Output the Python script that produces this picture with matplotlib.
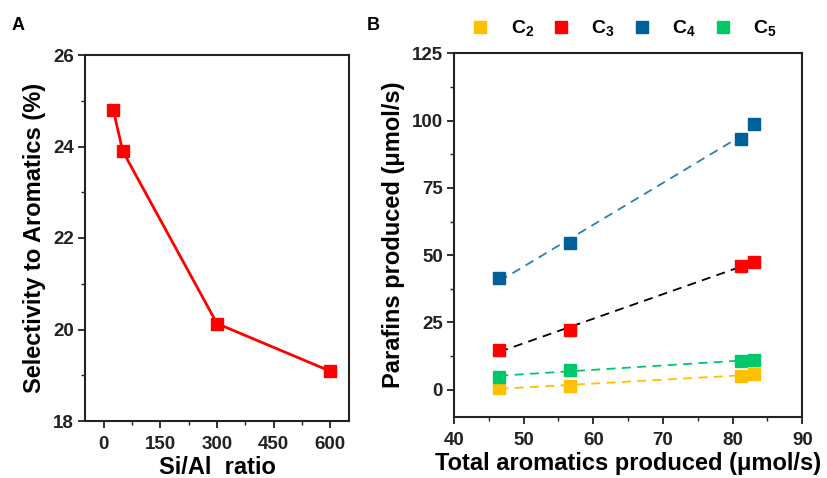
import matplotlib
matplotlib.use("Agg")
import matplotlib.pyplot as plt
import numpy as np
from matplotlib.ticker import MultipleLocator
from matplotlib.lines import Line2D

plt.rcParams['font.family'] = ['Liberation Sans', 'DejaVu Sans']
plt.rcParams['font.weight'] = 'bold'
plt.rcParams['mathtext.fontset'] = 'custom'
plt.rcParams['mathtext.rm'] = 'Liberation Sans:bold'
plt.rcParams['mathtext.bf'] = 'Liberation Sans:bold'

# Panel A data
si_al = [25, 50, 300, 600]
selectivity = [24.8, 23.9, 20.13, 19.09]

# Panel B data
aromatics = [46.5, 56.6, 81.2, 83.0]
c2 = [0.6, 1.5, 5.3, 5.8]
c3 = [14.8, 22.3, 45.8, 47.6]
c4 = [41.5, 54.5, 93.1, 98.6]
c5 = [4.9, 7.3, 10.8, 11.1]
series_names = ['C$_2$', 'C$_3$', 'C$_4$', 'C$_5$']
series_vals = [c2, c3, c4, c5]
marker_colors = ['#FFC000', '#FF0000', '#00609C', '#00C86A']
line_colors = ['#FFC000', '#000000', '#2A7FB8', '#00C86A']

fig = plt.figure(figsize=(8.28, 4.78), dpi=100)
W, H = 828, 478
axA = fig.add_axes([85 / W, 1 - 421 / H, (349 - 85) / W, (421 - 55) / H])
axB = fig.add_axes([454 / W, 1 - 416.7 / H, (802.3 - 454) / W, (416.7 - 53.3) / H])

def style(ax):
    for s in ax.spines.values():
        s.set_linewidth(1.5)
        s.set_color('#222222')
    ax.tick_params(which='major', direction='out', length=5, width=1.3, labelsize=13.5,
                   colors='#222222')
    ax.tick_params(axis='x', which='major', pad=6)
    ax.tick_params(axis='y', which='major', pad=3)
    ax.tick_params(which='minor', direction='out', length=3, width=1.0, colors='#222222')
    for lab in ax.get_xticklabels() + ax.get_yticklabels():
        lab.set_fontweight('bold')

# Panel A
axA.plot(si_al, selectivity, color='#FF0000', lw=2, marker='s', ms=9,
         mfc='#FF0000', mec='#FF0000', zorder=3)
axA.set_xlim(-50, 650)
axA.set_ylim(18, 26)
axA.xaxis.set_major_locator(MultipleLocator(150))
axA.xaxis.set_minor_locator(MultipleLocator(75))
axA.yaxis.set_major_locator(MultipleLocator(2))
axA.yaxis.set_minor_locator(MultipleLocator(1))
axA.set_xlabel('Si/Al  ratio', fontsize=17, fontweight='bold', labelpad=2)
axA.set_ylabel('Selectivity to Aromatics (%)', fontsize=17, fontweight='bold', labelpad=5)
style(axA)

# Panel B
xa = np.array(aromatics)
for vals, mc, lc in zip(series_vals, marker_colors, line_colors):
    k, b = np.polyfit(xa, np.array(vals), 1)
    xs = np.array([xa.min(), xa.max() - 0.8])
    axB.plot(xs, k * xs + b, ls=(0, (5, 3.5)), color=lc, lw=1.3, zorder=2)
    axB.plot(xa, vals, ls='none', marker='s', ms=9, mfc=mc, mec=mc, zorder=3)
axB.set_xlim(40, 90)
axB.set_ylim(-10, 125)
axB.xaxis.set_major_locator(MultipleLocator(10))
axB.xaxis.set_minor_locator(MultipleLocator(5))
axB.yaxis.set_major_locator(MultipleLocator(25))
axB.yaxis.set_minor_locator(MultipleLocator(12.5))
axB.set_xlabel('Total aromatics produced (\u03bcmol/s)', fontsize=17, fontweight='bold', labelpad=2)
axB.set_ylabel('Parafins produced (\u03bcmol/s)', fontsize=17, fontweight='bold', labelpad=5)
style(axB)

handles = [Line2D([], [], ls='none', marker='s', ms=8, mfc=c, mec=c) for c in marker_colors]
leg = axB.legend(handles, series_names, loc='center', bbox_to_anchor=(0.487, 1.067),
                 ncol=4, frameon=False, fontsize=14, handlelength=1.0, handletextpad=1.05,
                 columnspacing=0.9, borderaxespad=0.0, borderpad=0.0)
for t in leg.get_texts():
    t.set_fontweight('bold')

fig.text(18 / W, 1 - 25 / H, 'A', fontsize=13, fontweight='bold', ha='center', va='center')
fig.text(373 / W, 1 - 25 / H, 'B', fontsize=13, fontweight='bold', ha='center', va='center')

fig.savefig('out.png', dpi=100, facecolor='white')
